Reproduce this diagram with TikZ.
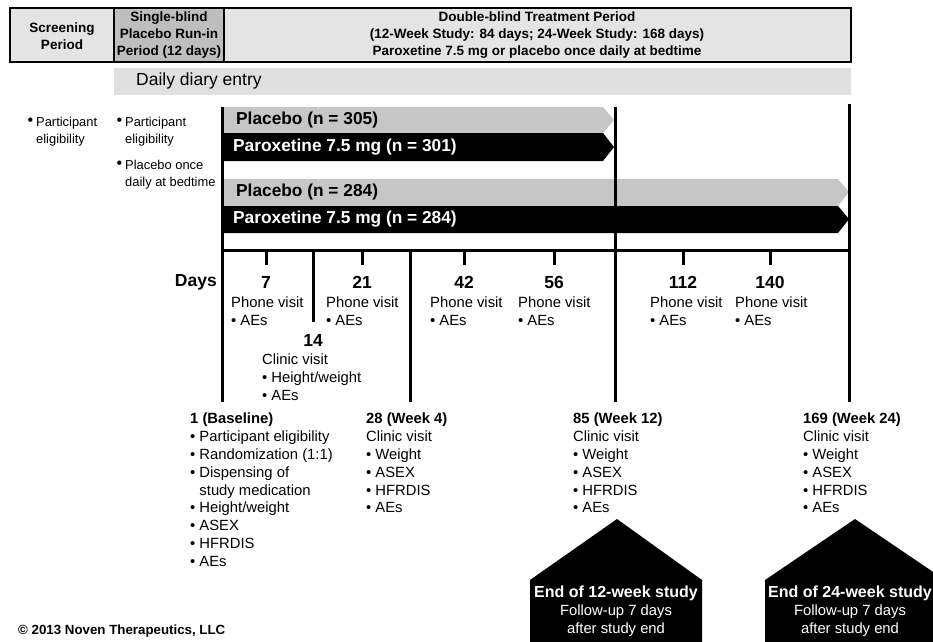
\documentclass[tikz,border=0pt]{standalone}
\usepackage{fontspec}
\setmainfont{Liberation Sans}
\usetikzlibrary{positioning}
\definecolor{hdrgray}{HTML}{E4E4E4}
\definecolor{rungray}{HTML}{BEBEBE}
\definecolor{diarygray}{HTML}{E0E0E0}
\definecolor{bargray}{HTML}{C6C6C6}
\newcommand{\bigdot}{\llap{\raisebox{1pt}{\fontsize{16}{16}\selectfont•}\hspace{3pt}}}

\begin{document}
\begin{tikzpicture}[x=1pt, y=-1pt,
    hdr/.style={font=\fontsize{13.5}{17}\selectfont\bfseries, align=center, inner sep=0pt},
    small/.style={font=\fontsize{12.9}{16.5}\selectfont, align=left, anchor=north west, inner sep=0pt},
    visit/.style={font=\fontsize{14.8}{17.8}\selectfont, align=left, anchor=north west, inner sep=0pt},
    daynum/.style={font=\fontsize{17.5}{19}\selectfont\bfseries, inner sep=0pt},
    barlabel/.style={font=\fontsize{17.3}{19}\selectfont\bfseries, anchor=west, inner sep=0pt},
    ending/.style={font=\fontsize{14.8}{18}\selectfont, align=center, anchor=north, inner sep=0pt, text=white},
    tline/.style={black, line width=3pt},
    box/.style={black, line width=1.8pt}]
    \useasboundingbox (0,0) rectangle (933,641);
    \clip (0,0) rectangle (933,641);

    % Cabecera
    \fill[hdrgray] (10,8) rectangle (851,62);
    \fill[rungray] (114,8) rectangle (224,62);
    \draw[box] (10,8) rectangle (851,62);
    \draw[box] (114,8) -- (114,62);
    \draw[box] (224,8) -- (224,62);
    \node[hdr] (scr) at (62,36) {Screening\\Period};
    \node[hdr] (runin) at (169,35) {Single-blind\\Placebo Run-in\\Period (12 days)};
    \node[hdr] (dbl) at (537,35) {Double-blind Treatment Period\\(12-Week Study: 84 days; 24-Week Study: 168 days)\\Paroxetine 7.5 mg or placebo once daily at bedtime};

    % Diario
    \fill[diarygray] (114,68) rectangle (851,95);
    \node[font=\fontsize{17.5}{19}\selectfont, anchor=west, inner sep=0pt] (diary) at (136,81) {Daily diary entry};

    % Textos a la izquierda
    \node[small] (scrtxt) at (36,117) {\bigdot Participant\\eligibility};
    \node[small] (runtxt) at (125,117) {\bigdot Participant\\eligibility\\[10pt]\bigdot Placebo once\\daily at bedtime};

    % Barras
    \fill[bargray] (222,107) -- (603,107) -- (614,120) -- (603,133) -- (222,133) -- cycle;
    \fill[black] (222,133) -- (603,133) -- (614,147) -- (603,161) -- (222,161) -- cycle;
    \fill[bargray] (222,179) -- (838,179) -- (849,192) -- (838,206) -- (222,206) -- cycle;
    \fill[black] (222,206) -- (838,206) -- (849,219) -- (838,233) -- (222,233) -- cycle;
    \node[barlabel] (pla12) at (236,120) {Placebo (n = 305)};
    \node[barlabel, text=white] (par12) at (233,147) {Paroxetine 7.5 mg (n = 301)};
    \node[barlabel] (pla24) at (236,192) {Placebo (n = 284)};
    \node[barlabel, text=white] (par24) at (233,219) {Paroxetine 7.5 mg (n = 284)};

    % Eje de tiempo
    \coordinate (start) at (222,107);
    \coordinate (end12) at (615,107);
    \coordinate (end24) at (849,104);
    \draw[tline] (start) -- (222,402);
    \draw[tline] (end12) -- (615,402);
    \draw[tline] (end24) -- (849,402);
    \draw[tline] (222,250) -- (849,250);
    \draw[tline] (313,250) -- (313,322);
    \draw[tline] (410,250) -- (410,402);

    % Visitas por teléfono
    \node[daynum, anchor=east] (days) at (217,282) {Days};
    \foreach \d/\x/\tx in {7/266/231, 21/362/326, 42/464/430, 56/554/518, 112/683/650, 140/770/735} {
        \draw[tline] (\x,250) -- (\x,265);
        \node[daynum] (d\d) at (\x,282) {\d};
        \node[visit] (v\d) at (\tx,296.5) {Phone visit\\• AEs};
    }

    % Visita día 14
    \node[daynum] (d14) at (313,340.5) {14};
    \node[visit] (v14) at (262,353.5) {Clinic visit\\• Height/weight\\• AEs};

    % Visitas en la clínica
    \node[visit] (v1) at (190,413) {\textbf{1 (Baseline)}\\• Participant eligibility\\• Randomization (1:1)\\• Dispensing of\\\phantom{• }study medication\\• Height/weight\\• ASEX\\• HFRDIS\\• AEs};
    \node[visit] (v28) at (366,413) {\textbf{28 (Week 4)}\\Clinic visit\\• Weight\\• ASEX\\• HFRDIS\\• AEs};
    \node[visit] (v85) at (573,413) {\textbf{85 (Week 12)}\\Clinic visit\\• Weight\\• ASEX\\• HFRDIS\\• AEs};
    \node[visit] (v169) at (803,413) {\textbf{169 (Week 24)}\\Clinic visit\\• Weight\\• ASEX\\• HFRDIS\\• AEs};

    % Fin del estudio
    \fill[black] (530,580) -- (617,519) -- (702,580) -- (702,645) -- (530,645) -- cycle;
    \fill[black] (765,580) -- (855,519) -- (945,580) -- (945,645) -- (765,645) -- cycle;
    \node[ending] (fin12) at (616,586) {{\fontsize{16}{18}\selectfont\bfseries End of 12-week study}\\Follow-up 7 days\\after study end};
    \node[ending] (fin24) at (850,586) {{\fontsize{16}{18}\selectfont\bfseries End of 24-week study}\\Follow-up 7 days\\after study end};

    % Copyright
    \node[font=\fontsize{13.3}{15}\selectfont\bfseries, anchor=west, inner sep=0pt] (copy) at (18,631) {© 2013 Noven Therapeutics, LLC};
\end{tikzpicture}
\end{document}
